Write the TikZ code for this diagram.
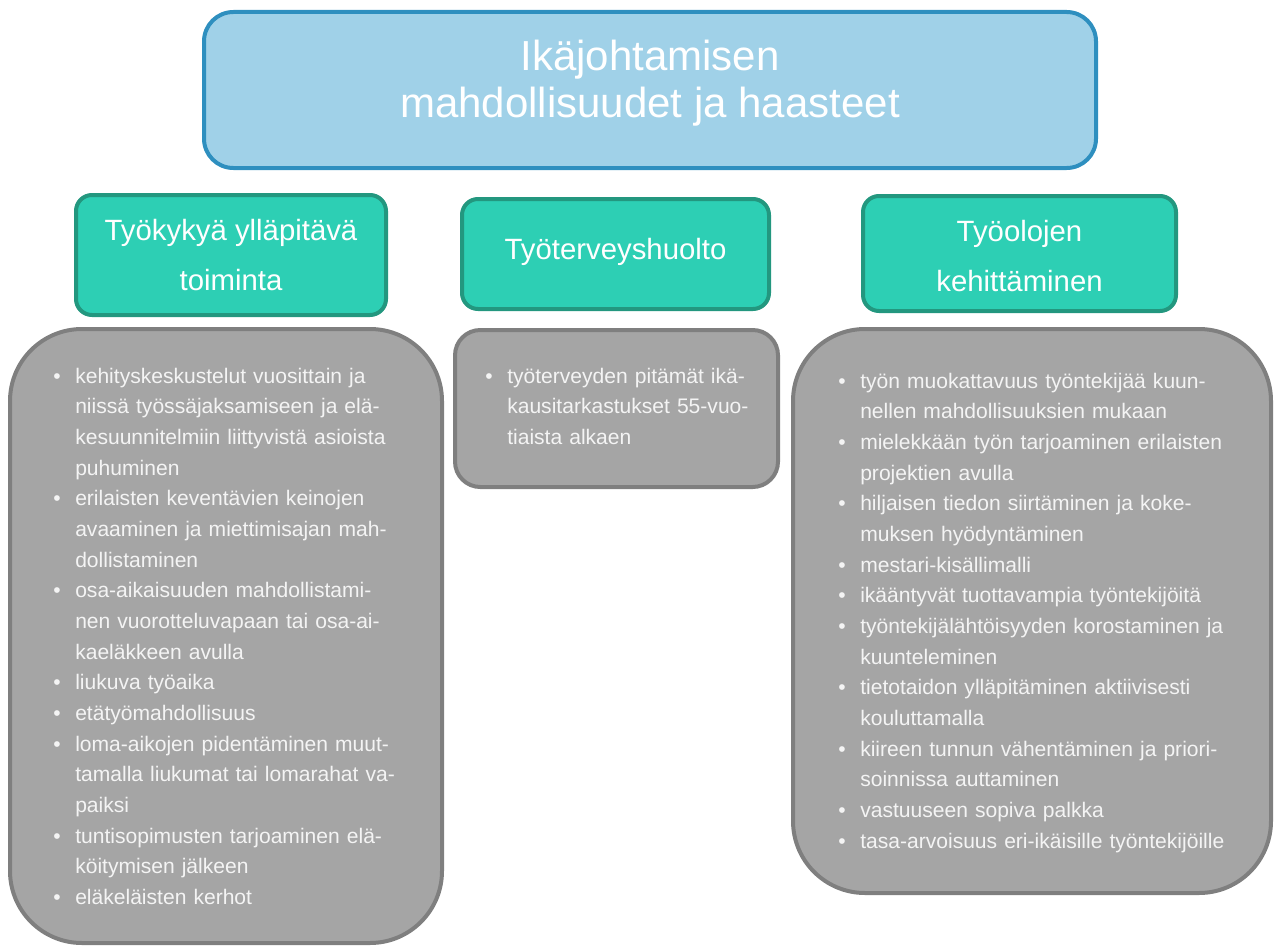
\documentclass[tikz,border=0pt]{standalone}
\usepackage{fontspec}
\setmainfont{Liberation Sans}
\definecolor{titlefill}{HTML}{A0D1E8}
\definecolor{titleline}{HTML}{2E8FBF}
\definecolor{headfill}{HTML}{2DCFB4}
\definecolor{headline}{HTML}{23977F}
\definecolor{bodyfill}{HTML}{A5A5A5}
\definecolor{bodyline}{HTML}{7F7F7F}
\definecolor{bodytext}{HTML}{F4F4F4}
\newcommand\bulitem{\makebox[16.5pt][l]{•}}
\newcommand\contline{\makebox[16.5pt][l]{}}
\begin{document}
\begin{tikzpicture}[x=0.75pt,y=-0.75pt,
  titlebox/.style={draw=titleline,fill=titlefill,line width=3pt,rounded corners=22pt,inner sep=0pt},
  headbox/.style={draw=headline,fill=headfill,line width=3pt,rounded corners=12pt,inner sep=0pt},
  bodybox/.style={draw=bodyline,fill=bodyfill,line width=3pt,inner sep=0pt},
  headtext/.style={text=white,align=center,font=\fontsize{22}{37.5}\selectfont,inner sep=0pt},
  titletext/.style={text=white,align=center,font=\fontsize{31.5}{35}\selectfont,inner sep=0pt},
  listtext/.style={text=bodytext,text width=380pt,align=left,anchor=base west,inner sep=0pt,font=\fontsize{15.8}{23}\selectfont}]
\useasboundingbox (0,0) rectangle (1275,949);

% title
\node[titlebox,minimum width=669pt,minimum height=117pt] (title) at (650,90) {};
\node[titletext] (titlet) at (650,83) {Ikäjohtamisen\\mahdollisuudet ja haasteet};

% headers
\node[headbox,minimum width=232.5pt,minimum height=90pt] (h1) at (231,255) {};
\node[headtext] (h1t) at (231,255) {Työkykyä ylläpitävä\\toiminta};
\node[headbox,minimum width=230.25pt,minimum height=82.5pt] (h2) at (615.5,254) {};
\node[headtext] (h2t) at (615.5,252) {Työterveyshuolto};
\node[headbox,minimum width=234.75pt,minimum height=86.25pt] (h3) at (1019.5,253.5) {};
\node[headtext] (h3t) at (1019.5,256) {Työolojen\\kehittäminen};

% bodies
\node[bodybox,rounded corners=54pt,minimum width=324pt,minimum height=460.5pt] (b1) at (226,636) {};
\node[bodybox,rounded corners=19pt,minimum width=242.25pt,minimum height=117.75pt] (b2) at (616.5,408.5) {};
\node[bodybox,rounded corners=54pt,minimum width=358.5pt,minimum height=423pt] (b3) at (1032,611) {};

\node[listtext] (b1t) at (53,383) {%
\bulitem kehityskeskustelut vuosittain ja\\
\contline niissä työssäjaksamiseen ja elä-\\
\contline kesuunnitelmiin liittyvistä asioista\\
\contline puhuminen\\
\bulitem erilaisten keventävien keinojen\\
\contline avaaminen ja miettimisajan mah-\\
\contline dollistaminen\\
\bulitem osa-aikaisuuden mahdollistami-\\
\contline nen vuorotteluvapaan tai osa-ai-\\
\contline kaeläkkeen avulla\\
\bulitem liukuva työaika\\
\bulitem etätyömahdollisuus\\
\bulitem loma-aikojen pidentäminen muut-\\
\contline tamalla liukumat tai lomarahat va-\\
\contline paiksi\\
\bulitem tuntisopimusten tarjoaminen elä-\\
\contline köitymisen jälkeen\\
\bulitem eläkeläisten kerhot};

\node[listtext] (b2t) at (485,383) {%
\bulitem työterveyden pitämät ikä-\\
\contline kausitarkastukset 55-vuo-\\
\contline tiaista alkaen};

\node[listtext] (b3t) at (838,388) {%
\bulitem työn muokattavuus työntekijää kuun-\\
\contline nellen mahdollisuuksien mukaan\\
\bulitem mielekkään työn tarjoaminen erilaisten\\
\contline projektien avulla\\
\bulitem hiljaisen tiedon siirtäminen ja koke-\\
\contline muksen hyödyntäminen\\
\bulitem mestari-kisällimalli\\
\bulitem ikääntyvät tuottavampia työntekijöitä\\
\bulitem työntekijälähtöisyyden korostaminen ja\\
\contline kuunteleminen\\
\bulitem tietotaidon ylläpitäminen aktiivisesti\\
\contline kouluttamalla\\
\bulitem kiireen tunnun vähentäminen ja priori-\\
\contline soinnissa auttaminen\\
\bulitem vastuuseen sopiva palkka\\
\bulitem tasa-arvoisuus eri-ikäisille työntekijöille};
\end{tikzpicture}
\end{document}
